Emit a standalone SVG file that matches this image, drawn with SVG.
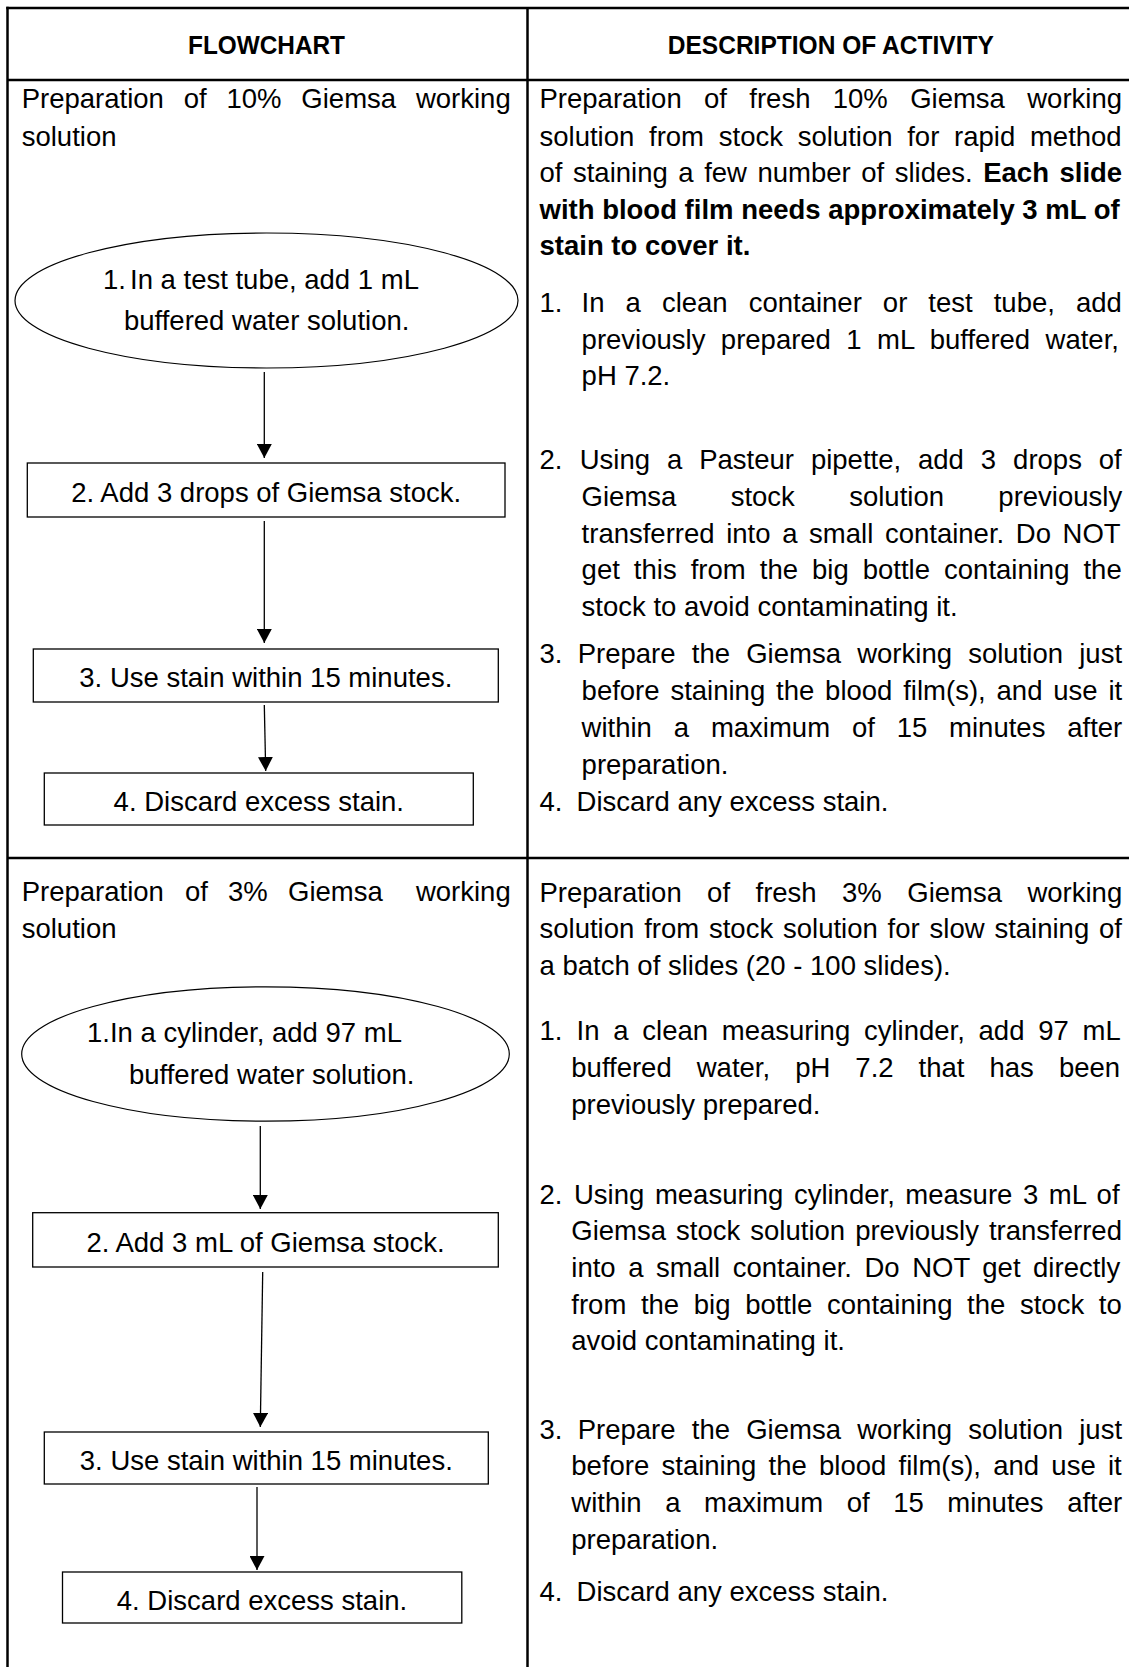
<svg xmlns="http://www.w3.org/2000/svg" width="1129" height="1667" viewBox="0 0 1129 1667">
<style>
.t{font-family:"Liberation Sans",Arial,sans-serif;font-size:27.5px;fill:#000}
.b{font-weight:bold}
.h{font-family:"Liberation Sans",Arial,sans-serif;font-size:26px;font-weight:bold;fill:#000;text-anchor:middle}
.e{text-anchor:end}
.m{text-anchor:middle}
.grid{stroke:#000;stroke-width:2.5;fill:none}
.box{fill:#fff;stroke:#000;stroke-width:1.3}
.ell{fill:#fff;stroke:#000;stroke-width:1.2}
.conn{stroke:#000;stroke-width:1.3;fill:none;marker-end:url(#ah)}
</style>
<defs>
<marker id="ah" viewBox="0 0 14 15" refX="14" refY="7.5" markerWidth="14" markerHeight="15" orient="auto" markerUnits="userSpaceOnUse">
<path d="M0,0 L14,7.5 L0,15 z" fill="#000"/>
</marker>
</defs>
<rect width="1129" height="1667" fill="#fff"/>
<g id="table" class="grid">
<line x1="6.25" y1="8" x2="1129" y2="8"/>
<line x1="7.5" y1="80" x2="1129" y2="80"/>
<line x1="7.5" y1="858" x2="1129" y2="858"/>
<line x1="7.5" y1="6.75" x2="7.5" y2="1667"/>
<line x1="527.5" y1="8" x2="527.5" y2="1667"/>
</g>
<g id="headers">
<text class="h" x="266.5" y="54" textLength="157" lengthAdjust="spacingAndGlyphs">FLOWCHART</text>
<text class="h" x="830.8" y="54" textLength="326" lengthAdjust="spacingAndGlyphs">DESCRIPTION OF ACTIVITY</text>
</g>
<g id="title-10">
<text class="t" x="21.7" y="108.3" style="word-spacing:12.2px">Preparation of 10% Giemsa working</text>
<text class="t" x="21.7" y="145.7">solution</text>
</g>
<g id="connectors">
<line class="conn" x1="264.3" y1="372" x2="264.3" y2="458"/>
<line class="conn" x1="264.3" y1="521" x2="264.3" y2="643"/>
<line class="conn" x1="264.3" y1="705" x2="265.7" y2="771"/>
<line class="conn" x1="260.3" y1="1126" x2="260.3" y2="1209"/>
<line class="conn" x1="262.7" y1="1272" x2="260.3" y2="1427"/>
<line class="conn" x1="257" y1="1487" x2="257" y2="1570"/>
</g>
<g id="n10-1">
<ellipse class="ell" cx="266.5" cy="300.5" rx="251.5" ry="67.5"/>
<text class="t" y="289"><tspan x="103">1.</tspan><tspan x="130">In a test tube, add 1 mL</tspan></text>
<text class="t" x="124" y="330">buffered water solution.</text>
</g>
<g id="n10-2">
<rect class="box" x="27.3" y="463" width="477.7" height="54"/>
<text class="t m" x="266.2" y="502">2. Add 3 drops of Giemsa stock.</text>
</g>
<g id="n10-3">
<rect class="box" x="33.3" y="649" width="465" height="53"/>
<text class="t m" x="265.8" y="687">3. Use stain within 15 minutes.</text>
</g>
<g id="n10-4">
<rect class="box" x="44.3" y="773" width="429" height="52"/>
<text class="t m" x="258.8" y="811">4. Discard excess stain.</text>
</g>
<g id="title-3">
<text class="t" y="900.7"><tspan x="21.7">Preparation</tspan><tspan x="185">of</tspan><tspan x="228">3%</tspan><tspan x="288">Giemsa</tspan></text>
<text class="t e" x="510.7" y="900.7">working</text>
<text class="t" x="21.7" y="937.7">solution</text>
</g>
<g id="n3-1">
<ellipse class="ell" cx="265.5" cy="1054" rx="243.8" ry="67.2"/>
<text class="t" x="87" y="1042">1.In a cylinder, add 97 mL</text>
<text class="t" x="129" y="1084">buffered water solution.</text>
</g>
<g id="n3-2">
<rect class="box" x="32.7" y="1212.7" width="465.6" height="54.3"/>
<text class="t m" x="265.5" y="1251.7">2. Add 3 mL of Giemsa stock.</text>
</g>
<g id="n3-3">
<rect class="box" x="44.3" y="1432" width="444" height="52"/>
<text class="t m" x="266.3" y="1470">3. Use stain within 15 minutes.</text>
</g>
<g id="n3-4">
<rect class="box" x="62.5" y="1572" width="399.3" height="51"/>
<text class="t m" x="262" y="1610">4. Discard excess stain.</text>
</g>
<g id="desc-10">
<text class="t" x="539.5" y="108.3" style="word-spacing:14.7px">Preparation of fresh 10% Giemsa working</text>
<text class="t" x="539.5" y="145.7" style="word-spacing:7.1px">solution from stock solution for rapid method</text>
<text class="t" x="539.5" y="182" style="word-spacing:2.9px">of staining a few number of slides. <tspan class="b">Each slide</tspan></text>
<text class="t b" x="539.5" y="218.5">with blood film needs approximately 3 mL of</text>
<text class="t b" x="539.5" y="255">stain to cover it.</text>
<text class="t" x="539.5" y="312">1.</text>
<text class="t" x="581.6" y="312" style="word-spacing:13.4px">In a clean container or test tube, add</text>
<text class="t" x="581.6" y="348.7" style="word-spacing:7.8px">previously prepared 1 mL buffered water,</text>
<text class="t" x="581.6" y="385.4">pH 7.2.</text>
<text class="t" x="539.5" y="469">2.</text>
<text class="t" x="579.7" y="469" style="word-spacing:9.3px">Using a Pasteur pipette, add 3 drops of</text>
<text class="t" x="581.6" y="505.8" style="word-spacing:46.7px">Giemsa stock solution previously</text>
<text class="t" x="581.6" y="542.6" style="word-spacing:4px">transferred into a small container. Do NOT</text>
<text class="t" x="581.6" y="579.4" style="word-spacing:6.4px">get this from the big bottle containing the</text>
<text class="t" x="581.6" y="616.2">stock to avoid contaminating it.</text>
<text class="t" x="539.5" y="663">3.</text>
<text class="t" x="577.7" y="663" style="word-spacing:8.6px">Prepare the Giemsa working solution just</text>
<text class="t" x="581.6" y="700" style="word-spacing:3.2px">before staining the blood film(s), and use it</text>
<text class="t" x="581.6" y="737" style="word-spacing:14.2px">within a maximum of 15 minutes after</text>
<text class="t" x="581.6" y="774">preparation.</text>
<text class="t" x="539.5" y="811">4.</text>
<text class="t" x="576.6" y="811">Discard any excess stain.</text>
</g>
<g id="desc-3">
<text class="t" x="539.5" y="901.7" style="word-spacing:17.8px">Preparation of fresh 3% Giemsa working</text>
<text class="t" x="539.5" y="938.3" style="word-spacing:2.2px">solution from stock solution for slow staining of</text>
<text class="t" x="539.5" y="975">a batch of slides (20 - 100 slides).</text>
<text class="t" x="539.5" y="1040">1.</text>
<text class="t" x="576.6" y="1040" style="word-spacing:6.1px">In a clean measuring cylinder, add 97 mL</text>
<text class="t" x="571.3" y="1077.3" style="word-spacing:17.4px">buffered water, pH 7.2 that has been</text>
<text class="t" x="571.3" y="1114">previously prepared.</text>
<text class="t" x="539.5" y="1203.7">2.</text>
<text class="t" x="574" y="1203.7" style="word-spacing:2.95px">Using measuring cylinder, measure 3 mL of</text>
<text class="t" x="571.3" y="1240.3" style="word-spacing:2.4px">Giemsa stock solution previously transferred</text>
<text class="t" x="571.3" y="1277" style="word-spacing:4.9px">into a small container. Do NOT get directly</text>
<text class="t" x="571.3" y="1313.7" style="word-spacing:7px">from the big bottle containing the stock to</text>
<text class="t" x="571.3" y="1350.3">avoid contaminating it.</text>
<text class="t" x="539.5" y="1438.7">3.</text>
<text class="t" x="577.7" y="1438.7" style="word-spacing:8.6px">Prepare the Giemsa working solution just</text>
<text class="t" x="571.3" y="1475.3" style="word-spacing:4.6px">before staining the blood film(s), and use it</text>
<text class="t" x="571.3" y="1512" style="word-spacing:15.9px">within a maximum of 15 minutes after</text>
<text class="t" x="571.3" y="1548.7">preparation.</text>
<text class="t" x="539.5" y="1601">4.</text>
<text class="t" x="576.6" y="1601">Discard any excess stain.</text>
</g>
</svg>
